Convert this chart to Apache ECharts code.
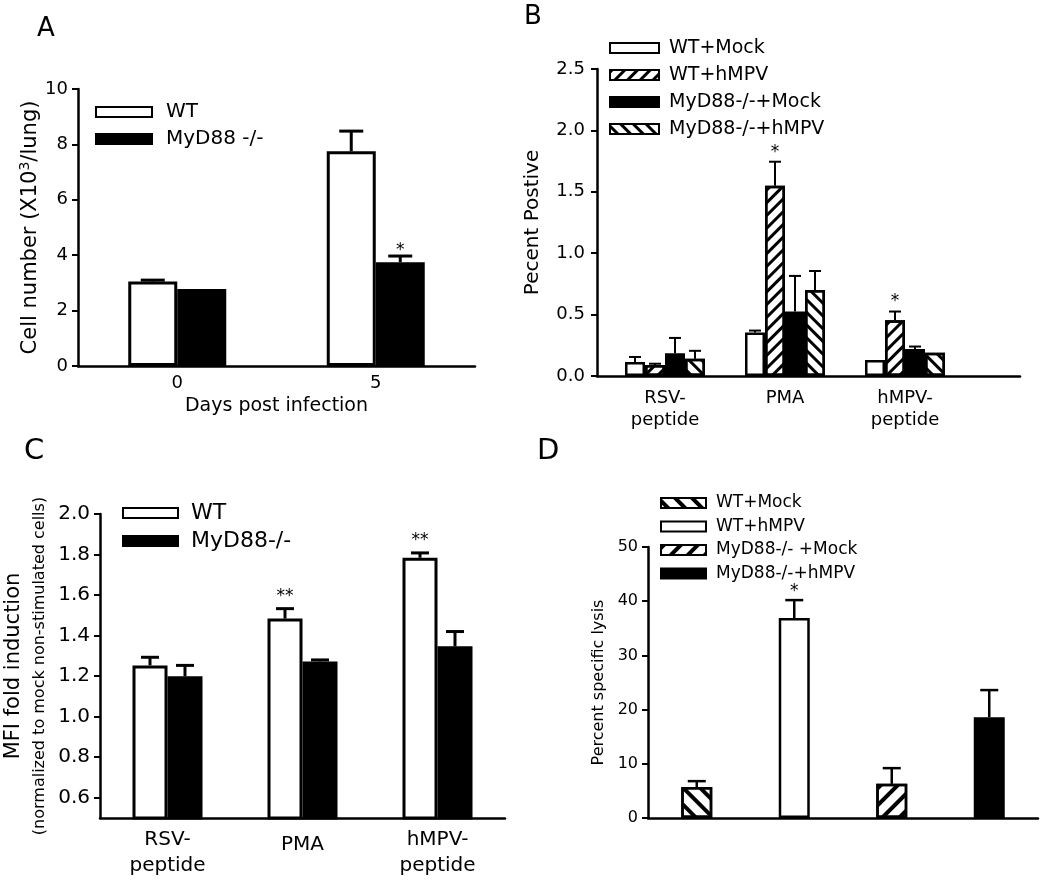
<!DOCTYPE html>
<html><head><meta charset="utf-8">
<script src="https://cdn.jsdelivr.net/npm/echarts@6/dist/echarts.min.js"></script>
<style>html,body{margin:0;padding:0;background:#fff}#c{width:1050px;height:888px}</style>
</head><body><div id="c"></div>
<script>
// ---------- Panel A ----------
const catsA = ['0', '5'];
const wtA = [3.05, 7.75];
const wtAErr = [3.1, 8.48];
const koA = [2.78, 3.75];
const koAErr = [null, 3.97];
const wtAStar = ['', ''];
const koAStar = ['', '*'];
const ticksA = [0, 2, 4, 6, 8, 10];

// ---------- Panel B ----------
const catsB = ['RSV-\npeptide', 'PMA', 'hMPV-\npeptide'];
const namesB = ['WT+Mock', 'WT+hMPV', 'MyD88-/-+Mock', 'MyD88-/-+hMPV'];
const bWtMock = [0.115, 0.355, 0.13];
const bWtMockErr = [0.155, 0.37, null];
const bWtHmpv = [0.09, 1.55, 0.455];
const bWtHmpvErr = [0.10, 1.745, 0.525];
const bKoMock = [0.185, 0.525, 0.22];
const bKoMockErr = [0.31, 0.815, 0.24];
const bKoHmpv = [0.14, 0.70, 0.19];
const bKoHmpvErr = [0.205, 0.855, null];
const bStars = ['', '*', '*'];
const ticksB = [0, 0.5, 1.0, 1.5, 2.0, 2.5];

// ---------- Panel C ----------
const catsC = ['RSV-\npeptide', 'PMA', 'hMPV-\npeptide'];
const cWt = [1.253, 1.484, 1.784];
const cWtErr = [1.293, 1.533, 1.808];
const cKo = [1.199, 1.272, 1.347];
const cKoErr = [1.253, 1.28, 1.42];
const cWtStar = ['', '**', '**'];
const ticksC = [0.6, 0.8, 1.0, 1.2, 1.4, 1.6, 1.8, 2.0];

// ---------- Panel D ----------
const catsD = ['WT+Mock', 'WT+hMPV', 'MyD88-/- +Mock', 'MyD88-/-+hMPV'];
const dVals = [5.7, 36.9, 6.3, 18.6];
const dErr = [6.8, 40.2, 9.2, 23.6];
const dStars = ['', '*', '', ''];
const ticksD = [0, 10, 20, 30, 40, 50];

const F = 'DejaVu Sans';
const K = '#000';

function makeErr(offset, cap, lw, errs, stars, starSize, starGap) {
  return function (params, api) {
    const i = params.dataIndex;
    const v = api.value(1);
    const e = errs[i];
    const p0 = api.coord([api.value(0), v]);
    const x = p0[0] + offset;
    const ch = [];
    let topY = p0[1];
    if (e != null && e > v) {
      const p1 = api.coord([api.value(0), e]);
      topY = p1[1];
      ch.push({type: 'line', shape: {x1: x, y1: p0[1], x2: x, y2: p1[1]}, style: {stroke: K, lineWidth: lw}});
      ch.push({type: 'line', shape: {x1: x - cap / 2, y1: p1[1], x2: x + cap / 2, y2: p1[1]}, style: {stroke: K, lineWidth: lw}});
    }
    const s = stars && stars[i];
    if (s) {
      ch.push({type: 'text', style: {text: s, x: x, y: topY - starGap, align: 'center', verticalAlign: 'bottom',
        fontFamily: F, fontSize: starSize, fill: K}});
    }
    return {type: 'group', children: ch};
  };
}
function errSeries(xi, yi, vals, offset, cap, lw, errs, stars, starSize, starGap) {
  return {type: 'custom', xAxisIndex: xi, yAxisIndex: yi, silent: true, z: 5,
    data: vals.map((v, i) => [i, v]), renderItem: makeErr(offset, cap, lw, errs, stars, starSize, starGap || 0)};
}
function hatch(dir, thick, gap) {
  return {symbol: 'rect', symbolSize: 1, dashArrayX: [1, 0], dashArrayY: [thick, gap],
    rotation: dir === '/' ? -Math.PI / 4 : Math.PI / 4, color: K};
}
const axisLineS = {show: true, lineStyle: {color: K, width: 2.5}};
const tickS = {show: true, length: 6, lineStyle: {color: K, width: 2}};
const letterS = (fs) => ({fontFamily: F, fontSize: fs, fontWeight: 'normal', color: K});

const wB = 20, wC = 35;
const option = {
  animation: false,
  backgroundColor: '#fff',
  title: [
    {text: 'A', left: 37, top: 16, padding: 0, textStyle: letterS(26)},
    {text: 'B', left: 524, top: 4, padding: 0, textStyle: letterS(26)},
    {text: 'C', left: 24, top: 437, padding: 0, textStyle: letterS(29)},
    {text: 'D', left: 537, top: 437, padding: 0, textStyle: letterS(29)}
  ],
  legend: [
    {data: ['WT', 'MyD88 -/-'], orient: 'vertical', left: 95, top: 102, padding: 0, itemWidth: 56, itemHeight: 10, itemGap: 7,
      icon: 'rect', selectedMode: false, textStyle: {fontFamily: F, fontSize: 20, lineHeight: 20, color: K, padding: [0, 0, 0, 9]}},
    {data: namesB, orient: 'vertical', left: 609, top: 38, padding: 0, itemWidth: 49, itemHeight: 10, itemGap: 7,
      icon: 'rect', selectedMode: false, textStyle: {fontFamily: F, fontSize: 19, lineHeight: 20, color: K, padding: [0, 0, 0, 5]}},
    {data: ['WT', 'MyD88-/-'], orient: 'vertical', left: 122, top: 502, padding: 0, itemWidth: 55, itemHeight: 10, itemGap: 6,
      icon: 'rect', selectedMode: false, textStyle: {fontFamily: F, fontSize: 22, lineHeight: 22, color: K, padding: [0, 0, 0, 8]}},
    {data: catsD.map(n => 'D ' + n), formatter: n => n.slice(2), orient: 'vertical', left: 660, top: 494, padding: 0,
      itemWidth: 45, itemHeight: 10, itemGap: 5.5,
      icon: 'rect', selectedMode: false, textStyle: {fontFamily: F, fontSize: 17, lineHeight: 18, color: K, padding: [0, 0, 0, 5]}}
  ],
  grid: [
    {left: 78, top: 89, width: 397, height: 277},
    {left: 605, top: 69, width: 360, height: 307},
    {left: 597, top: 69, width: 423, height: 307},
    {left: 100, top: 514, width: 405, height: 304},
    {left: 648, top: 547, width: 390, height: 271}
  ],
  xAxis: [
    {type: 'category', gridIndex: 0, data: catsA, axisLine: axisLineS, axisTick: {show: false},
      axisLabel: {color: K, fontFamily: F, fontSize: 18, margin: 8},
      name: 'Days post infection', nameLocation: 'middle', nameGap: 31,
      nameTextStyle: {color: K, fontFamily: F, fontSize: 19}},
    {type: 'category', gridIndex: 1, data: catsB, axisLine: {show: false}, axisTick: {show: false},
      axisLabel: {color: K, fontFamily: F, fontSize: 18, lineHeight: 22, margin: 11}},
    {type: 'value', gridIndex: 2, min: 0, max: 1, axisLine: axisLineS, axisTick: {show: false},
      axisLabel: {show: false}, splitLine: {show: false}},
    {type: 'category', gridIndex: 3, data: catsC, axisLine: axisLineS, axisTick: {show: false},
      axisLabel: {color: K, fontFamily: F, fontSize: 20, lineHeight: 26, margin: 9,
        formatter: v => v.indexOf('\n') >= 0 ? v : '{m|' + v + '}',
        rich: {m: {fontFamily: F, fontSize: 20, color: K, padding: [10, 0, 0, 0]}}}},
    {type: 'category', gridIndex: 4, data: catsD, axisLine: axisLineS, axisTick: {show: false},
      axisLabel: {show: false}}
  ],
  yAxis: [
    {type: 'value', gridIndex: 0, min: 0, max: 10, interval: 2, axisLine: axisLineS, axisTick: tickS,
      splitLine: {show: false}, axisLabel: {color: K, fontFamily: F, fontSize: 18, margin: 10},
      name: '{a|Cell number (X10}{s|3}{a|/lung)}', nameLocation: 'middle', nameGap: 33,
      nameTextStyle: {rich: {a: {fontFamily: F, fontSize: 21, color: K, lineHeight: 25},
        s: {fontFamily: F, fontSize: 14, color: K, verticalAlign: 'top', lineHeight: 25}}}},
    {type: 'value', gridIndex: 1, min: 0, max: 2.5, interval: 0.5, offset: 8, axisLine: axisLineS, axisTick: tickS,
      splitLine: {show: false}, axisLabel: {color: K, fontFamily: F, fontSize: 18, margin: 12, formatter: v => v.toFixed(1)},
      name: 'Pecent Postive', nameLocation: 'middle', nameGap: 54,
      nameTextStyle: {color: K, fontFamily: F, fontSize: 20}},
    {type: 'value', gridIndex: 2, min: 0, max: 2.5, show: false},
    {type: 'value', gridIndex: 3, min: 0.5, max: 2.0, axisLine: axisLineS,
      axisTick: {show: true, length: 6, lineStyle: {color: K, width: 2}, customValues: ticksC},
      splitLine: {show: false},
      axisLabel: {color: K, fontFamily: F, fontSize: 20, margin: 10, customValues: ticksC, formatter: v => v.toFixed(1)},
      name: '{a|MFI fold induction}\n{b|(normalized to mock non-stimulated cells)}', nameLocation: 'middle', nameGap: 50,
      nameTextStyle: {rich: {a: {fontFamily: F, fontSize: 21, color: K, lineHeight: 32},
        b: {fontFamily: F, fontSize: 16, color: K, lineHeight: 20}}}},
    {type: 'value', gridIndex: 4, min: 0, max: 50, interval: 10, axisLine: axisLineS, axisTick: tickS,
      splitLine: {show: false}, axisLabel: {color: K, fontFamily: F, fontSize: 16, margin: 10},
      name: 'Percent specific lysis', nameLocation: 'middle', nameGap: 41,
      nameTextStyle: {color: K, fontFamily: F, fontSize: 16}}
  ],
  series: [
    // A
    {type: 'bar', name: 'WT', xAxisIndex: 0, yAxisIndex: 0, data: wtA, barWidth: 49, barGap: '0%',
      itemStyle: {color: '#fff', borderColor: K, borderWidth: 3}},
    {type: 'bar', name: 'MyD88 -/-', xAxisIndex: 0, yAxisIndex: 0, data: koA, barWidth: 49, barGap: '0%',
      itemStyle: {color: K, borderColor: K, borderWidth: 3}},
    errSeries(0, 0, wtA, -24.5, 24, 3, wtAErr, wtAStar, 17, -3),
    errSeries(0, 0, koA, 24.5, 24, 3, koAErr, koAStar, 17, -3),
    // B
    {type: 'bar', name: namesB[0], xAxisIndex: 1, yAxisIndex: 1, data: bWtMock, barWidth: wB, barGap: '0%',
      itemStyle: {color: '#fff', borderColor: K, borderWidth: 2.5}},
    {type: 'bar', name: namesB[1], xAxisIndex: 1, yAxisIndex: 1, data: bWtHmpv, barWidth: wB, barGap: '0%',
      itemStyle: {color: '#fff', borderColor: K, borderWidth: 2.5, decal: hatch('/', 3, 6)}},
    {type: 'bar', name: namesB[2], xAxisIndex: 1, yAxisIndex: 1, data: bKoMock, barWidth: wB, barGap: '0%',
      itemStyle: {color: K, borderColor: K, borderWidth: 2.5}},
    {type: 'bar', name: namesB[3], xAxisIndex: 1, yAxisIndex: 1, data: bKoHmpv, barWidth: wB, barGap: '0%',
      itemStyle: {color: '#fff', borderColor: K, borderWidth: 2.5, decal: hatch('\\', 3, 6)}},
    errSeries(1, 1, bWtMock, -1.5 * wB, 12, 2, bWtMockErr, null, 17, 1),
    errSeries(1, 1, bWtHmpv, -0.5 * wB, 12, 2, bWtHmpvErr, bStars, 17, 1),
    errSeries(1, 1, bKoMock, 0.5 * wB, 12, 2, bKoMockErr, null, 17, 1),
    errSeries(1, 1, bKoHmpv, 1.5 * wB, 12, 2, bKoHmpvErr, null, 17, 1),
    // C
    {type: 'bar', name: 'WT', xAxisIndex: 3, yAxisIndex: 3, data: cWt, barWidth: wC, barGap: '0%',
      itemStyle: {color: '#fff', borderColor: K, borderWidth: 3}},
    {type: 'bar', name: 'MyD88-/-', xAxisIndex: 3, yAxisIndex: 3, data: cKo, barWidth: wC, barGap: '0%',
      itemStyle: {color: K, borderColor: K, borderWidth: 3}},
    errSeries(3, 3, cWt, -0.5 * wC, 18, 3, cWtErr, cWtStar, 17, 4),
    errSeries(3, 3, cKo, 0.5 * wC, 18, 3, cKoErr, null, 17, 4),
    // D
    {type: 'bar', name: 'D ' + catsD[0], xAxisIndex: 4, yAxisIndex: 4, stack: 'd', barWidth: 31,
      data: dVals.map((v, i) => i === 0 ? v : '-'),
      itemStyle: {color: '#fff', borderColor: K, borderWidth: 2.5, decal: hatch('\\', 4, 8)}},
    {type: 'bar', name: 'D ' + catsD[1], xAxisIndex: 4, yAxisIndex: 4, stack: 'd', barWidth: 31,
      data: dVals.map((v, i) => i === 1 ? v : '-'),
      itemStyle: {color: '#fff', borderColor: K, borderWidth: 2.5}},
    {type: 'bar', name: 'D ' + catsD[2], xAxisIndex: 4, yAxisIndex: 4, stack: 'd', barWidth: 31,
      data: dVals.map((v, i) => i === 2 ? v : '-'),
      itemStyle: {color: '#fff', borderColor: K, borderWidth: 2.5, decal: hatch('/', 4, 8)}},
    {type: 'bar', name: 'D ' + catsD[3], xAxisIndex: 4, yAxisIndex: 4, stack: 'd', barWidth: 31,
      data: dVals.map((v, i) => i === 3 ? v : '-'),
      itemStyle: {color: K, borderColor: K, borderWidth: 2.5}},
    errSeries(4, 4, dVals, 0, 18, 2.5, dErr, dStars, 17, 0)
  ]
};
const chart = echarts.init(document.getElementById('c'), null, {renderer: 'canvas'});
chart.setOption(option);
</script></body></html>
